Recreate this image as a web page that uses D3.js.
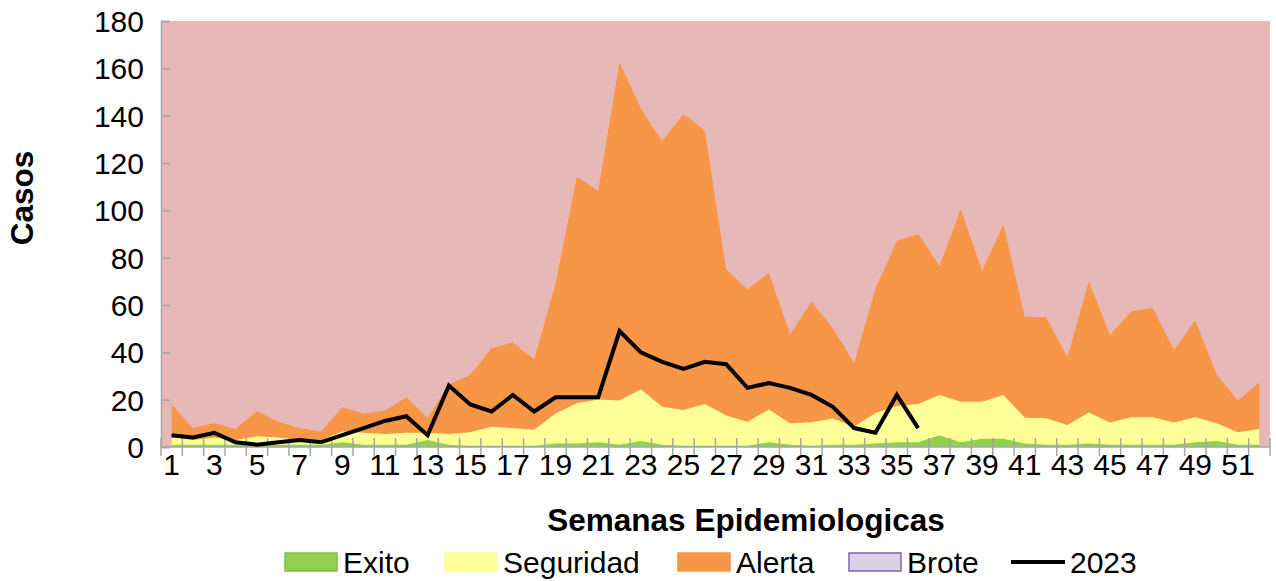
<!DOCTYPE html>
<html>
<head>
<meta charset="utf-8">
<script src="https://cdn.jsdelivr.net/npm/d3@7"></script>
<style>
  body { margin: 0; background: #fff; }
  text { font-family: "Liberation Sans", Arial, sans-serif; fill: #000; }
</style>
</head>
<body>
<svg class="chart" width="1276" height="581"></svg>
<script>
const weeks = [1, 2, 3, 4, 5, 6, 7, 8, 9, 10, 11, 12, 13, 14, 15, 16, 17, 18, 19, 20, 21, 22, 23, 24, 25, 26,
  27, 28, 29, 30, 31, 32, 33, 34, 35, 36, 37, 38, 39, 40, 41, 42, 43, 44, 45, 46, 47, 48, 49, 50, 51, 52];

// upper limit of each zone (same week order)
const exito = [1, 1, 1, 1, 1, 1, 1, 1, 2, 1, 1, 1, 3, 1, 0.5, 0.5, 0.5, 0.5, 1.5, 1.5, 2, 1, 2.5, 1, 0.5, 0.5,
  0.5, 0.5, 2, 1, 0.5, 1, 1, 1.5, 2, 2, 5, 2, 3.5, 3.5, 1.5, 1, 1, 1.5, 1, 1, 1, 1, 2, 2.5, 1, 1];
const seguridad = [4, 3, 4, 3, 4.5, 4, 3, 3, 6.5, 6, 5.5, 6, 6, 5.5, 6.2, 8.6, 7.9, 7.3, 14.2, 18.5, 20.1, 19.6, 24.4, 17, 15.6, 18.2,
  13.3, 10.7, 15.8, 10, 10.5, 12, 8.7, 14.4, 17.3, 18.2, 22, 19.1, 19.1, 22, 12.4, 12.1, 9.3, 14.6, 10.4, 12.6, 12.6, 10.3, 12.6, 10, 6.2, 7.6];
const alerta = [18, 8, 10, 7.6, 15.2, 10.7, 7.9, 6.5, 16.8, 14.2, 15.3, 21, 12.4, 26.5, 30.4, 41.7, 44.2, 37, 69, 114.2, 108.2, 162.5, 143, 129.3, 140.7, 133.6,
  75, 66.5, 73.6, 47.6, 61.4, 50.3, 35.4, 67, 87, 90, 76.5, 100.5, 74.5, 94, 55, 54.8, 37.9, 69.8, 47.3, 57.5, 58.6, 41, 53.6, 30.5, 19.6, 27.4];

// 2023 cases, weeks 1-36
const casos2023 = [5, 4, 6, 2, 1, 2, 3, 2, 5, 8, 11, 13, 5, 26, 18, 15, 22, 15, 21, 21, 21, 49, 40, 36, 33, 36,
  35, 25, 27, 25, 22, 17, 8, 6, 22, 8];

const yTicks = [0, 20, 40, 60, 80, 100, 120, 140, 160, 180];
const legendItems = ['Exito', 'Seguridad', 'Alerta', 'Brote', '2023'];

const colors = {
  brote: '#E6B8B7',
  alerta: '#F79646',
  seguridad: '#FFFF99',
  exito: '#92D050',
  axis: '#A6A6A6'
};

const svg = d3.select('.chart');
const plot = { left: 161, right: 1270, top: 21, bottom: 447 };

const x = d3.scaleBand().domain(weeks).range([plot.left, plot.right]);
const cx = w => x(w) + x.bandwidth() / 2;
const y = d3.scaleLinear().domain([0, 180]).range([plot.bottom, plot.top]);

// plot background (Brote zone)
svg.append('rect')
  .attr('x', plot.left)
  .attr('y', plot.top)
  .attr('width', plot.right - plot.left)
  .attr('height', plot.bottom - plot.top)
  .attr('fill', colors.brote);

const zones = [
  { key: 'alerta', values: alerta },
  { key: 'seguridad', values: seguridad },
  { key: 'exito', values: exito },
];

const area = d3.area()
  .x((d, i) => cx(weeks[i]))
  .y0(y(0))
  .y1(d => y(d));

svg.append('g')
  .selectAll('path')
  .data(zones)
  .enter()
  .append('path')
  .attr('d', d => area(d.values))
  .attr('fill', d => colors[d.key]);

// y axis
const yAxis = svg.append('g')
  .attr('transform', `translate(${plot.left},0)`)
  .call(d3.axisRight(y).tickValues(yTicks).tickSize(9).tickFormat(''));
yAxis.select('.domain').attr('stroke', colors.axis).attr('stroke-width', 1.5);
yAxis.selectAll('.tick line').attr('stroke', colors.axis).attr('stroke-width', 1.5);

svg.append('g')
  .selectAll('text')
  .data(yTicks)
  .enter()
  .append('text')
  .attr('x', 144)
  .attr('y', d => y(d) + 11)
  .attr('text-anchor', 'end')
  .style('font-size', '30px')
  .text(d => d);

// x axis with crossing ticks at category edges
const xAxis = svg.append('g');
xAxis.append('line')
  .attr('x1', plot.left).attr('x2', plot.right)
  .attr('y1', plot.bottom).attr('y2', plot.bottom)
  .attr('stroke', colors.axis).attr('stroke-width', 1.5);
xAxis.selectAll('.xt')
  .data(weeks.concat([weeks.length + 1]))
  .enter()
  .append('line')
  .attr('class', 'xt')
  .attr('x1', (d, i) => plot.left + i * x.step())
  .attr('x2', (d, i) => plot.left + i * x.step())
  .attr('y1', plot.bottom - 9)
  .attr('y2', plot.bottom + 9)
  .attr('stroke', colors.axis)
  .attr('stroke-width', 1.5);

svg.append('g')
  .selectAll('text')
  .data(weeks.filter(w => w % 2 === 1))
  .enter()
  .append('text')
  .attr('x', d => cx(d))
  .attr('y', 475)
  .attr('text-anchor', 'middle')
  .style('font-size', '30px')
  .text(d => d);

// 2023 line
const line = d3.line()
  .x((d, i) => cx(weeks[i]))
  .y(d => y(d));

svg.append('path')
  .datum(casos2023)
  .attr('d', line)
  .attr('fill', 'none')
  .attr('stroke', '#000')
  .attr('stroke-width', 4)
  .attr('stroke-linejoin', 'miter');

// axis titles
svg.append('text')
  .attr('x', 746)
  .attr('y', 531)
  .attr('text-anchor', 'middle')
  .style('font-size', '31.5px')
  .style('font-weight', 'bold')
  .text('Semanas Epidemiologicas');

svg.append('text')
  .attr('transform', 'translate(33,198) rotate(-90)')
  .attr('text-anchor', 'middle')
  .style('font-size', '31.5px')
  .style('font-weight', 'bold')
  .text('Casos');

// legend
const legendX = [284, 444, 677, 848, 1011];
const swatch = [
  { fill: colors.exito, stroke: '#84BB4C' },
  { fill: colors.seguridad, stroke: colors.seguridad },
  { fill: colors.alerta, stroke: colors.alerta },
  { fill: '#D9D2E6', stroke: '#8064A2' },
];
const legend = svg.append('g');
legendItems.forEach((name, i) => {
  const g = legend.append('g').attr('transform', `translate(${legendX[i]},0)`);
  if (i < 4) {
    g.append('rect')
      .attr('x', 1).attr('y', 553)
      .attr('width', 52).attr('height', 18)
      .attr('fill', swatch[i].fill)
      .attr('stroke', swatch[i].stroke)
      .attr('stroke-width', 1.5);
  } else {
    g.append('line')
      .attr('x1', 0).attr('x2', 54)
      .attr('y1', 562).attr('y2', 562)
      .attr('stroke', '#000')
      .attr('stroke-width', 4);
  }
  g.append('text')
    .attr('x', 59)
    .attr('y', 573)
    .style('font-size', '30px')
    .text(name);
});
</script>
</body>
</html>
